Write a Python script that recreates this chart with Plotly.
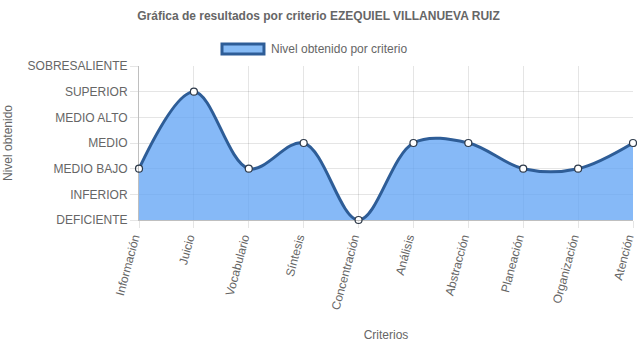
import plotly.graph_objects as go

criterios = ["Información", "Juicio", "Vocabulario", "Síntesis", "Concentración",
             "Análisis", "Abstracción", "Planeación", "Organización", "Atención"]
niveles = ["DEFICIENTE", "INFERIOR", "MEDIO BAJO", "MEDIO", "MEDIO ALTO", "SUPERIOR", "SOBRESALIENTE"]
valores = [2, 5, 2, 3, 0, 3, 3, 2, 2, 3]
serie = "Nivel obtenido por criterio"

FONT = "Liberation Sans, Arial, sans-serif"
GRAY = "#666666"
LINE = "#2e5d97"
FILL = "rgba(100,165,245,0.78)"

fig = go.Figure()
fig.add_trace(go.Scatter(
    x=list(range(len(criterios))), y=valores,
    mode="lines+markers",
    name=serie,
    showlegend=False,
    line=dict(shape="spline", smoothing=1.0, color=LINE, width=3),
    fill="tozeroy", fillcolor=FILL,
    marker=dict(size=7, color="white", line=dict(color="#2e3a4a", width=1.2)),
    cliponaxis=False,
))

# Chart.js-style legend box (paper coordinates)
fig.add_shape(type="rect", xref="paper", yref="paper",
              x0=0.168, x1=0.253, y0=1.078, y1=1.143,
              line=dict(color=LINE, width=3), fillcolor="rgb(135,187,245)")
fig.add_annotation(text=serie, xref="paper", yref="paper", x=0.263, y=1.110,
                   xanchor="left", yanchor="middle", showarrow=False,
                   font=dict(size=12, color=GRAY, family=FONT))

fig.update_layout(
    width=637, height=348,
    margin=dict(l=139, r=4, t=66, b=128, autoexpand=False),
    paper_bgcolor="white", plot_bgcolor="white",
    font=dict(family=FONT, color=GRAY, size=12),
    title=dict(text="<b>Gráfica de resultados por criterio EZEQUIEL VILLANUEVA RUIZ</b>",
               x=0.5, xanchor="center", y=0.955, yanchor="middle",
               font=dict(size=12, color=GRAY, family=FONT)),
    showlegend=False,
    xaxis=dict(
        range=[0, len(criterios) - 1],
        tickmode="array", tickvals=list(range(len(criterios))), ticktext=criterios,
        tickangle=-75, showgrid=True, gridcolor="rgba(0,0,0,0.1)", gridwidth=1,
        ticks="outside", ticklen=7, tickcolor="rgba(0,0,0,0.1)",
        showline=True, linecolor="rgba(0,0,0,0.25)", zeroline=False,
        tickfont=dict(size=12, color=GRAY),
        ticklabeloverflow="allow", automargin=False,
        ticklabelshift=-5, ticklabelstandoff=-2,
        title=dict(text="Criterios", font=dict(size=12, color=GRAY), standoff=20),
        fixedrange=True,
    ),
    yaxis=dict(
        range=[0, 6],
        tickmode="array", tickvals=list(range(len(niveles))), ticktext=niveles,
        showgrid=True, gridcolor="rgba(0,0,0,0.1)", gridwidth=1,
        ticks="outside", ticklen=8, tickcolor="rgba(0,0,0,0.1)",
        showline=True, linecolor="rgba(0,0,0,0.25)", zeroline=False,
        tickfont=dict(size=12, color=GRAY),
        automargin=False,
        title=dict(text="Nivel obtenido", font=dict(size=12, color=GRAY), standoff=12),
        fixedrange=True,
    ),
)

fig.write_html("out.html", config={"displayModeBar": False})
